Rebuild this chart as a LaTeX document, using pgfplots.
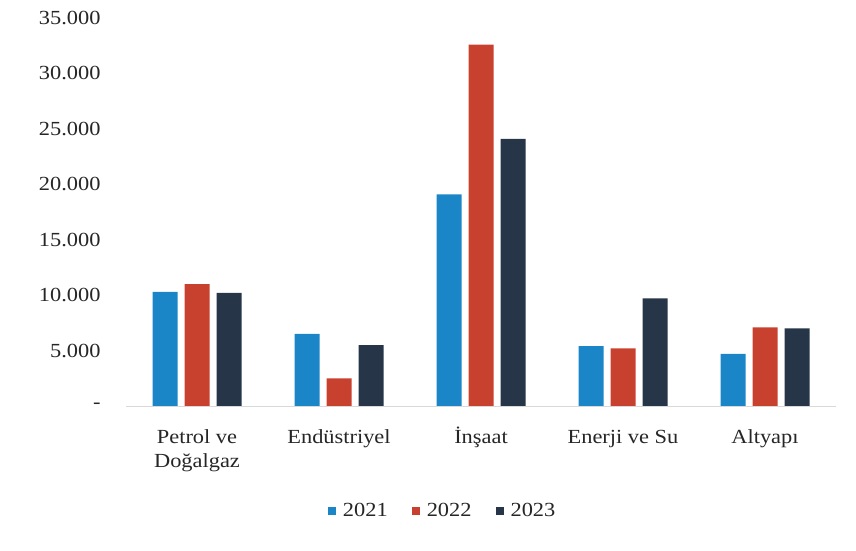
\documentclass[border=0pt]{standalone}
\usepackage{pgfplots}
\pgfplotsset{compat=1.18}
\usepackage{fontspec}
\setmainfont[FakeStretch=1.12]{Liberation Serif}
\definecolor{cA}{HTML}{1A86C8}
\definecolor{cB}{HTML}{C8412E}
\definecolor{cC}{HTML}{263648}
\definecolor{txt}{HTML}{262626}
\newcommand{\st}{\rule{0pt}{18pt}}
\begin{document}
\begin{tikzpicture}
\path[use as bounding box] (0,0) rectangle (856pt,551pt);
\begin{axis}[
  at={(126pt,145pt)}, anchor=south west,
  scale only axis, width=710pt, height=388pt,
  xmin=-0.5, xmax=4.5, ymin=0, ymax=35000,
  ybar=7pt, bar width=25pt,
  axis line style={draw=none},
  major tick length=0pt,
  scaled y ticks=false,
  xtick={0,1,2,3,4},
  xticklabels={{\st Petrol ve\\Doğalgaz},\st Endüstriyel,\st İnşaat,{\st Enerji ve Su},\st Altyapı},
  xticklabel style={align=center, font=\fontsize{20}{24}\selectfont, text=txt, anchor=north, yshift=-15.5pt},
  ytick={0,5000,10000,15000,20000,25000,30000,35000},
  yticklabels={-,5.000,10.000,15.000,20.000,25.000,30.000,35.000},
  yticklabel style={font=\fontsize{20}{24}\selectfont, text=txt, xshift=-22pt},
  /pgf/number format/assume math mode=true,
  extra y ticks={0}, extra y tick labels={},
  extra y tick style={grid=major, grid style={draw=gray!30, line width=0.8pt}},
  legend columns=3,
  legend style={draw=none, at={(0.446,-0.27)}, anchor=center,
    font=\fontsize{20}{24}\selectfont, text=txt,
    /tikz/every odd column/.append style={column sep=5pt},
    /tikz/every even column/.append style={column sep=22pt}},
  legend image code/.code={\path[#1, draw=none] (0pt,-4pt) rectangle (8pt,4pt);},
]
\addplot[fill=cA, draw=none] coordinates {(0,10300) (1,6500) (2,19100) (3,5400) (4,4700)};
\addplot[fill=cB, draw=none] coordinates {(0,11000) (1,2500) (2,32600) (3,5200) (4,7100)};
\addplot[fill=cC, draw=none] coordinates {(0,10200) (1,5500) (2,24100) (3,9700) (4,7000)};
\legend{2021,2022,2023}
\end{axis}
\end{tikzpicture}
\end{document}
